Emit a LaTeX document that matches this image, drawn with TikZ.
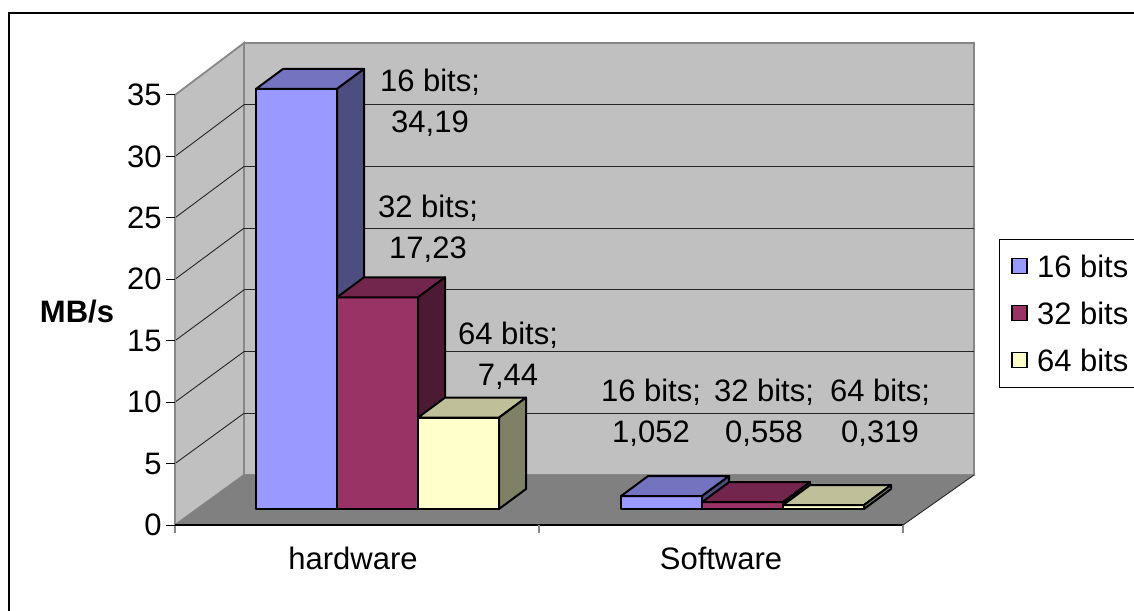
\documentclass[tikz,border=0pt]{standalone}
\usepackage{fontspec}
\setmainfont{Liberation Sans}
\usetikzlibrary{positioning}

\definecolor{wallgray}{HTML}{C0C0C0}
\definecolor{floorgray}{HTML}{808080}
\definecolor{edgegray}{HTML}{878787}
\definecolor{blueA}{HTML}{9999FF}
\definecolor{blueB}{HTML}{7373BF}
\definecolor{blueC}{HTML}{4D4D80}
\definecolor{plumA}{HTML}{993366}
\definecolor{plumB}{HTML}{73264D}
\definecolor{plumC}{HTML}{4D1A33}
\definecolor{creamA}{HTML}{FFFFCC}
\definecolor{creamB}{HTML}{BFBF99}
\definecolor{creamC}{HTML}{808066}

% one 3d column: left x, value, front, top, side
\newcommand{\chartbar}[5]{%
  \pgfmathsetmacro{\bartop}{509-#2*12.286}
  \filldraw[barline,fill=#3] (#1,509) rectangle ({#1+81},\bartop);
  \filldraw[barline,fill=#4] (#1,\bartop) -- ++(27,-20) -- ++(81,0) -- ++(-27,20) -- cycle;
  \filldraw[barline,fill=#5] ({#1+81},509) -- ++(27,-20) -- ({#1+108},{\bartop-20}) -- ({#1+81},\bartop) -- cycle;
}

\begin{document}
\begin{tikzpicture}[x=0.5pt,y=-0.5pt,
    barline/.style={draw=black,line width=1pt,line join=round},
    gridline/.style={draw=black!85,line width=0.45pt},
    wallside/.style={draw=edgegray,line width=0.9pt},
    ticklbl/.style={font=\fontsize{15.5}{18}\selectfont,anchor=east,inner sep=0pt},
    catlbl/.style={font=\fontsize{15.5}{18}\selectfont,inner sep=0pt},
    datalbl/.style={font=\fontsize{15.5}{20.5}\selectfont,align=center,inner sep=0pt},
    legsq/.style={draw=black,line width=0.6pt,minimum size=7.5pt,inner sep=0pt},
    legtxt/.style={font=\fontsize{15.5}{18}\selectfont,inner sep=0pt}]
    \useasboundingbox (0,0) rectangle (1134,610);
    \fill[white] (0,0) rectangle (1134,610);
    \clip (0,0) rectangle (1134,610);

    % walls and floor
    \filldraw[wallside,fill=wallgray] (175,95) -- (244,43) -- (244,475) -- (175,525) -- cycle;
    \filldraw[wallside,fill=wallgray] (244,43) rectangle (974,475);
    \fill[floorgray] (175,525) -- (903,525) -- (974,475) -- (244,475) -- cycle;
    \draw[gridline] (903,525) -- (974,475);
    \foreach \k in {1,...,6} {
      \draw[gridline] (244,{475-\k*61.71}) -- (974,{475-\k*61.71});
      \draw[gridline] (175,{525-\k*61.43}) -- (244,{475-\k*61.71});
    }

    % value axis
    \draw[edgegray,line width=0.9pt] (175,95) -- (175,533);
    \foreach \v in {0,5,...,35} {
      \draw[black,line width=0.5pt] (166,{525-\v*12.286}) -- (175,{525-\v*12.286});
      \node[ticklbl] (t\v) at (162,{525-\v*12.286}) {\v};
    }
    \node[font=\fontsize{15.5}{18}\selectfont\bfseries] (unit) at (77,312) {MB/s};

    % category axis
    \draw[black,line width=0.8pt] (175,525) -- (903,525);
    \draw[edgegray,line width=0.8pt] (539,525) -- (539,533);
    \draw[edgegray,line width=0.8pt] (903,525) -- (903,533);
    \node[catlbl] (hw) at (353,558) {hardware};
    \node[catlbl] (sw) at (721,558) {Software};

    % columns
    \chartbar{256}{34.19}{blueA}{blueB}{blueC}
    \chartbar{337}{17.23}{plumA}{plumB}{plumC}
    \chartbar{418}{7.44}{creamA}{creamB}{creamC}
    \chartbar{621}{1.052}{blueA}{blueB}{blueC}
    \chartbar{702}{0.558}{plumA}{plumB}{plumC}
    \chartbar{783}{0.319}{creamA}{creamB}{creamC}

    % value labels
    \node[datalbl] (hw16) at (430,103) {16 bits;\\34,19};
    \node[datalbl] (hw32) at (428,229) {32 bits;\\17,23};
    \node[datalbl] (hw64) at (508,356) {64 bits;\\7,44};
    \node[datalbl] (sw16) at (651,413) {16 bits;\\1,052};
    \node[datalbl] (sw32) at (764,413) {32 bits;\\0,558};
    \node[datalbl] (sw64) at (880,413) {64 bits;\\0,319};

    % legend
    \draw[black,line width=0.5pt] (999,239) rectangle (1150,387);
    \node[legsq,fill=blueA] (k16) at (1019.5,266) {};
    \node[legsq,fill=plumA] (k32) at (1019.5,313) {};
    \node[legsq,fill=creamA] (k64) at (1019.5,360) {};
    \node[legtxt,right=4.5pt of k16] (k16t) {16 bits};
    \node[legtxt,right=4.5pt of k32] (k32t) {32 bits};
    \node[legtxt,right=4.5pt of k64] (k64t) {64 bits};

    % outer frame
    \draw[black,line width=1.4pt] (9,13) rectangle (1160,640);
  \end{tikzpicture}
\end{document}
